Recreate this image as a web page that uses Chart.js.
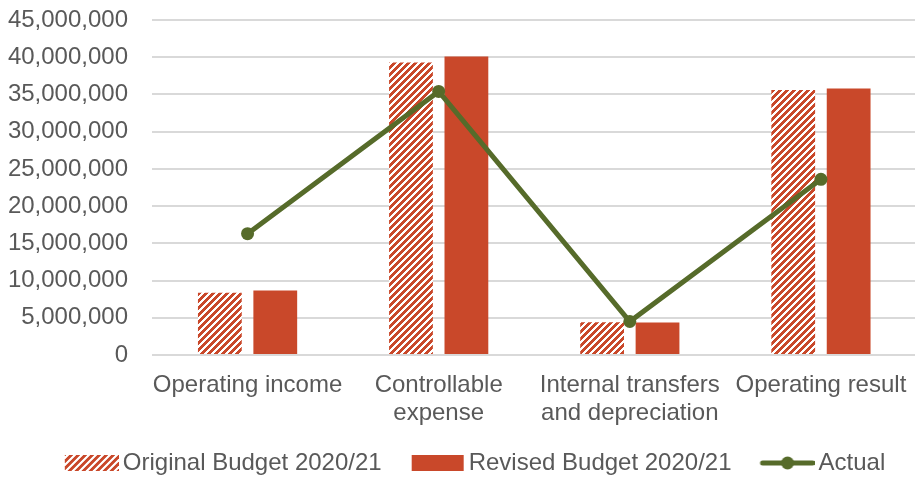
<!DOCTYPE html>
<html>
<head>
<meta charset="utf-8">
<script src="https://cdn.jsdelivr.net/npm/chart.js@4"></script>
<style>
  html, body { margin: 0; padding: 0; background: #ffffff; overflow: hidden; }
  #wrap { width: 923px; height: 477px; }
</style>
</head>
<body>
<div id="wrap"><canvas id="chart" width="923" height="477"></canvas></div>
<script>
// Budget vs actual figures (AUD)
const categories = ['Operating income', ['Controllable', 'expense'], ['Internal transfers', 'and depreciation'], 'Operating result'];
const originalBudget = [8360000, 39300000, 4400000, 35600000];
const revisedBudget  = [8660000, 40100000, 4370000, 35800000];
const actual         = [16300000, 35400000, 4500000, 23600000];
const seriesNames = ['Original Budget 2020/21', 'Revised Budget 2020/21', 'Actual'];
const yTicks = { min: 0, max: 45000000, step: 5000000 };

const RED = '#C9482A';
const GREEN = '#566B2A';
const TEXT = '#595959';
const FONT = 'Liberation Sans, Arial, sans-serif';

// Upward diagonal hatch used for the original budget bars
function makeHatch(color) {
  const n = 7;
  const c = document.createElement('canvas');
  c.width = n; c.height = n;
  const g = c.getContext('2d');
  g.fillStyle = '#ffffff';
  g.fillRect(0, 0, n, n);
  g.fillStyle = color;
  for (let y = 0; y < n; y++) {
    for (let x = 0; x < n; x++) {
      if ((x + y) % n < 4) g.fillRect(x, y, 1, 1);
    }
  }
  return g.createPattern(c, 'repeat');
}
const hatch = makeHatch(RED);

// Legend swatches: transparent left margin, visible glyph on the right
const SW = { margin: 19, visible: 54, lead: 8, h: 16 };
function swatch(drawFn) {
  const w = SW.lead + SW.margin + SW.visible;
  const c = document.createElement('canvas');
  c.width = w; c.height = 24;
  const g = c.getContext('2d');
  drawFn(g, SW.lead + SW.margin, SW.visible, 24);
  return c;
}
const swHatch = swatch((g, x0, w, h) => {
  g.fillStyle = hatch;
  g.fillRect(x0, (h - SW.h) / 2, w, SW.h);
});
const swSolid = swatch((g, x0, w, h) => {
  g.fillStyle = RED;
  g.fillRect(x0 + 1, (h - SW.h) / 2, w - 2, SW.h);
});
const swLine = swatch((g, x0, w, h) => {
  g.strokeStyle = GREEN;
  g.lineWidth = 5;
  g.lineCap = 'round';
  g.beginPath();
  g.moveTo(x0 + 2, h / 2);
  g.lineTo(x0 + w - 2, h / 2);
  g.stroke();
  g.fillStyle = GREEN;
  g.beginPath();
  g.arc(x0 + w / 2, h / 2, 6.5, 0, Math.PI * 2);
  g.fill();
});
const swatches = [swHatch, swSolid, swLine];

const ctx = document.getElementById('chart').getContext('2d');
new Chart(ctx, {
  data: {
    labels: categories,
    datasets: [
      {
        type: 'bar',
        label: seriesNames[0],
        data: originalBudget,
        backgroundColor: hatch,
        borderWidth: 0,
        order: 2,
        categoryPercentage: 0.58,
        barPercentage: 0.79
      },
      {
        type: 'bar',
        label: seriesNames[1],
        data: revisedBudget,
        backgroundColor: RED,
        borderWidth: 0,
        order: 2,
        categoryPercentage: 0.58,
        barPercentage: 0.79
      },
      {
        type: 'line',
        label: seriesNames[2],
        data: actual,
        borderColor: GREEN,
        backgroundColor: GREEN,
        borderWidth: 5,
        pointRadius: 6.5,
        pointHoverRadius: 6.5,
        pointBackgroundColor: GREEN,
        pointBorderWidth: 0,
        tension: 0,
        order: 1
      }
    ]
  },
  options: {
    responsive: false,
    animation: false,
    devicePixelRatio: 1,
    layout: { padding: { left: 8, right: 0, top: 20, bottom: -8 } },
    plugins: {
      tooltip: { enabled: false },
      legend: {
        position: 'bottom',
        labels: {
          color: TEXT,
          font: { family: FONT, size: 24 },
          usePointStyle: true,
          pointStyleWidth: SW.margin + SW.visible - 8,
          boxHeight: 16,
          padding: 10,
          sort: (a, b) => a.datasetIndex - b.datasetIndex,
          generateLabels: (chart) => chart.data.datasets.map((ds, i) => ({
            text: ds.label,
            datasetIndex: i,
            pointStyle: swatches[i],
            fillStyle: 'transparent',
            strokeStyle: 'transparent',
            lineWidth: 0,
            fontColor: TEXT,
            hidden: false
          }))
        }
      }
    },
    scales: {
      x: {
        grid: { display: false, drawTicks: false },
        border: { display: false },
        ticks: {
          color: TEXT,
          font: { family: FONT, size: 24, lineHeight: 1.17 },
          padding: 16,
          maxRotation: 0,
          autoSkip: false
        },
        afterFit: (s) => { s.paddingLeft = 0; s.paddingRight = 0; s.height = 86; }
      },
      y: {
        min: yTicks.min,
        max: yTicks.max,
        grid: { color: '#D9D9D9', lineWidth: 2, drawTicks: false },
        border: { display: false },
        ticks: {
          stepSize: yTicks.step,
          color: TEXT,
          font: { family: FONT, size: 24 },
          padding: 24,
          callback: (v) => Number(v).toLocaleString('en-US')
        },
        afterFit: (s) => { s.paddingTop = 0; s.paddingBottom = 0; s.width = 144; }
      }
    }
  }
});
</script>
</body>
</html>
